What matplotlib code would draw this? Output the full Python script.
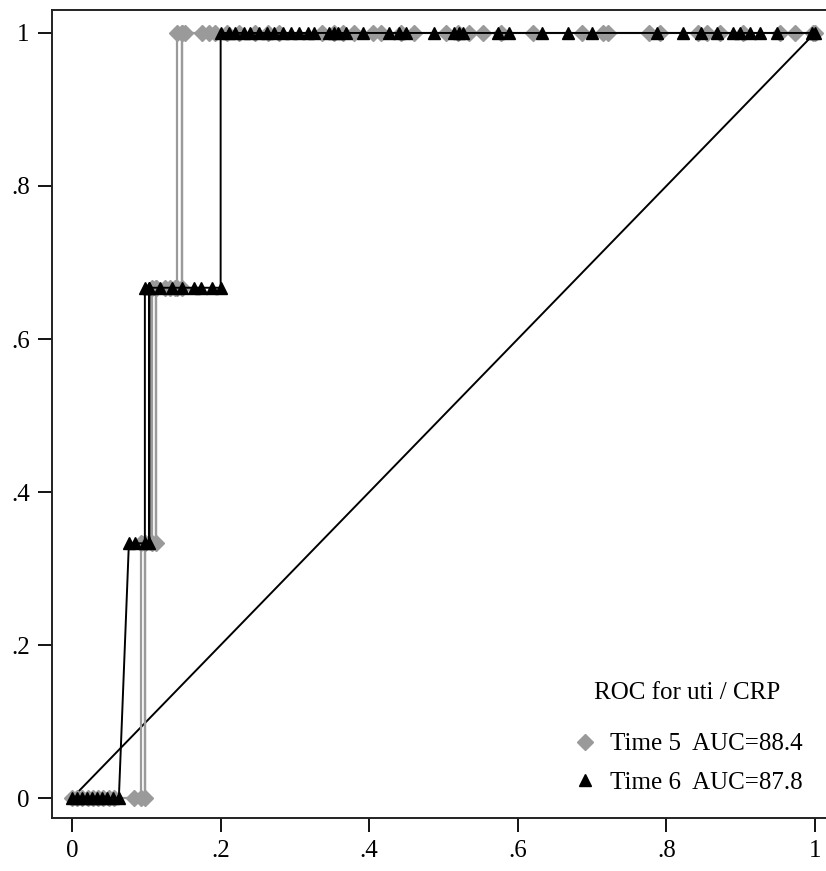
import matplotlib
matplotlib.use('Agg')
import matplotlib.pyplot as plt
from matplotlib.lines import Line2D

plt.rcParams['font.family'] = ['Liberation Serif', 'DejaVu Serif']

# ROC points, Time 5 (grey diamonds) - path order as drawn
t5_x = [0, 0.007, 0.014, 0.021, 0.028, 0.035, 0.042, 0.05, 0.057, 0.083, 0.093, 0.093,
        0.098, 0.098, 0.098, 0.108, 0.108, 0.113, 0.113, 0.113, 0.125, 0.132, 0.138,
        0.141, 0.141, 0.148, 0.148, 0.148, 0.152, 0.175, 0.185, 0.192, 0.208, 0.225,
        0.246, 0.264, 0.278, 0.336, 0.352, 0.365, 0.380, 0.405, 0.416, 0.443, 0.460,
        0.503, 0.519, 0.534, 0.553, 0.577, 0.620, 0.687, 0.715, 0.722, 0.776, 0.792,
        0.842, 0.855, 0.872, 0.903, 0.953, 0.973, 0.997, 1.0]
t5_y = [0, 0, 0, 0, 0, 0, 0, 0, 0, 0, 0, 0.333,
        0.333, 0, 0.333, 0.333, 0.667, 0.667, 0.333, 0.667, 0.667, 0.667, 0.667,
        0.667, 1, 1, 0.667, 1, 1, 1, 1, 1, 1, 1,
        1, 1, 1, 1, 1, 1, 1, 1, 1, 1, 1,
        1, 1, 1, 1, 1, 1, 1, 1, 1, 1, 1,
        1, 1, 1, 1, 1, 1, 1, 1]

# ROC points, Time 6 (black triangles)
t6_x = [0, 0.007, 0.013, 0.02, 0.027, 0.033, 0.04, 0.047, 0.055, 0.063, 0.0765, 0.085,
        0.098, 0.098, 0.104, 0.104, 0.104, 0.118, 0.134, 0.148, 0.164, 0.174, 0.188,
        0.2, 0.2, 0.211, 0.219, 0.231, 0.239, 0.251, 0.262, 0.272, 0.284, 0.295, 0.306,
        0.318, 0.326, 0.346, 0.353, 0.358, 0.369, 0.392, 0.427, 0.440, 0.450, 0.487,
        0.514, 0.521, 0.526, 0.574, 0.588, 0.633, 0.668, 0.700, 0.788, 0.823, 0.846,
        0.868, 0.890, 0.899, 0.913, 0.926, 0.949, 0.996, 1.0]
t6_y = [0, 0, 0, 0, 0, 0, 0, 0, 0, 0, 0.333, 0.333,
        0.333, 0.667, 0.667, 0.333, 0.667, 0.667, 0.667, 0.667, 0.667, 0.667, 0.667,
        0.667, 1, 1, 1, 1, 1, 1, 1, 1, 1, 1, 1,
        1, 1, 1, 1, 1, 1, 1, 1, 1, 1, 1,
        1, 1, 1, 1, 1, 1, 1, 1, 1, 1, 1,
        1, 1, 1, 1, 1, 1, 1, 1]

ticks = [0, 0.2, 0.4, 0.6, 0.8, 1]
tick_labels = ['0', '.2', '.4', '.6', '.8', '1']
legend_title = 'ROC for uti / CRP'
legend_labels = ['Time 5  AUC=88.4', 'Time 6  AUC=87.8']

grey = '#9a9a9a'

fig = plt.figure(figsize=(8.26, 8.71), dpi=100)
ax = fig.add_axes([52 / 826, 53 / 871, 783 / 826, 808 / 871])

ax.plot([0, 1], [0, 1], color='black', lw=1.4, zorder=2)
ax.plot(t5_x, t5_y, color=grey, lw=1.6, marker='D', ms=8, mfc=grey, mec=grey, zorder=3)
ax.plot(t6_x, t6_y, color='black', lw=1.4, marker='^', ms=9, mfc='black', mec='black', zorder=4)

ax.set_xlim(-0.027, 1.027)
ax.set_ylim(-0.026, 1.03)
ax.set_xticks(ticks)
ax.set_xticklabels(tick_labels)
ax.set_yticks(ticks)
ax.set_yticklabels(tick_labels)
ax.tick_params(axis='both', length=10, width=1.3, labelsize=18, pad=6, color='black')

for s in ax.spines.values():
    s.set_linewidth(1.4)
    s.set_color('#222222')

handles = [Line2D([], [], ls='none', marker='D', ms=8, color=grey),
           Line2D([], [], ls='none', marker='^', ms=9, color='black')]
leg = ax.legend(handles, legend_labels, title=legend_title, loc='lower right',
                bbox_to_anchor=(0.974, 0.014), frameon=False, fontsize=18,
                title_fontsize=18, handlelength=1.0, handletextpad=0.5,
                labelspacing=0.65, borderpad=0)
leg._legend_box.sep = 21

fig.savefig('out.png', dpi=100)
